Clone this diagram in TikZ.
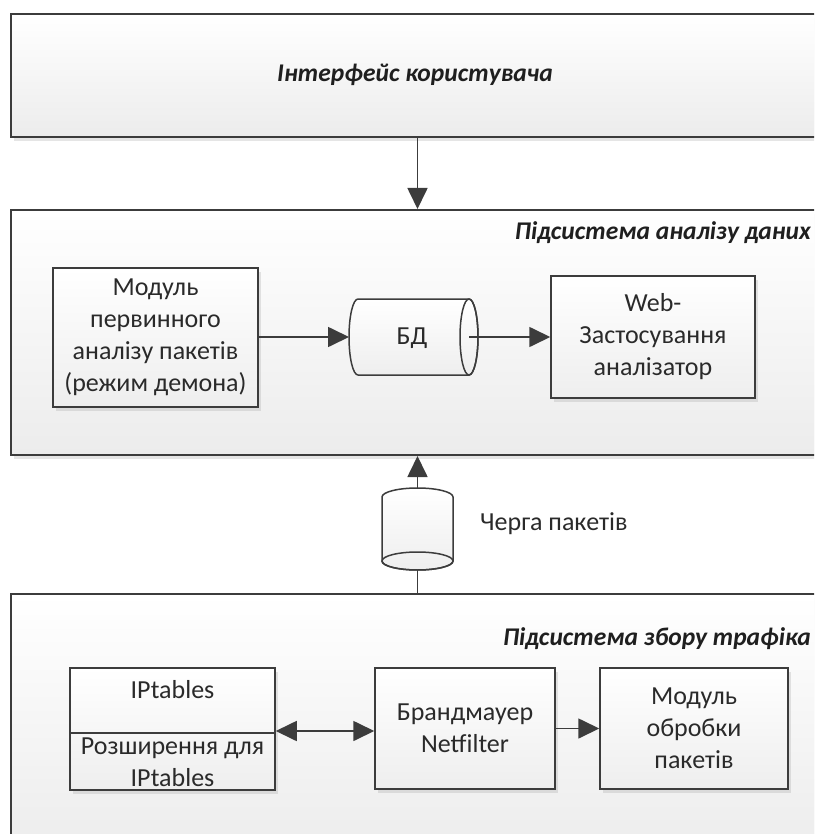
\documentclass[tikz,border=0pt]{standalone}
\usepackage{fontspec}
\setmainfont{Carlito}
\usetikzlibrary{arrows.meta,shadows}

\definecolor{linegray}{HTML}{3C3C3C}
\definecolor{textgray}{HTML}{2A2A2A}
\definecolor{boxlow}{HTML}{ECECEC}
\definecolor{innerlow}{HTML}{EEEEEE}

\begin{document}
\begin{tikzpicture}[x=1pt,y=-1pt,
  boxshadow/.style={drop shadow={shadow xshift=3pt,shadow yshift=-4pt,fill=black!40,opacity=0.25}},
  layer/.style={draw=linegray,line width=2pt,top color=white,bottom color=boxlow,
    inner sep=0pt,boxshadow},
  block/.style={draw=linegray,line width=1.5pt,top color=white,bottom color=innerlow,
    inner sep=0pt,align=center,text=textgray,boxshadow,
    font=\fontsize{26}{32}\selectfont},
  plain/.style={inner sep=0pt,align=center,text=textgray,font=\fontsize{26}{32}\selectfont},
  heading/.style={inner sep=0pt,text=black!88,font=\fontsize{25.5}{30}\selectfont\bfseries\itshape},
  cyl/.style={draw=linegray,line width=1.5pt,top color=white,bottom color=innerlow},
  flow/.style={draw=linegray,line width=1.7pt,-{Triangle[length=21pt,width=20pt]}},
  both/.style={draw=linegray,line width=1.7pt,{Triangle[length=21pt,width=20pt]}-{Triangle[length=21pt,width=20pt]}}
]
\useasboundingbox (0,0) rectangle (814,834);
\clip (0,0) rectangle (814,834);

% three stacked layers (they run past the right and bottom edges)
\node[layer,minimum width=813pt,minimum height=123pt] (ui) at (417.5,75.5) {};
\node[heading] (uititle) at (415,75) {Інтерфейс користувача};

\node[layer,minimum width=813pt,minimum height=245pt] (analysis) at (417.5,332.5) {};
\node[heading,anchor=east] (antitle) at (811,233) {Підсистема аналізу даних};

\node[layer,minimum width=813pt,minimum height=260pt] (capture) at (417.5,724) {};
\node[heading,anchor=east] (captitle) at (811,639) {Підсистема збору трафіка};

% analysis subsystem
\node[block,minimum width=205pt,minimum height=139pt] (daemon) at (155.5,337.5)
  {Модуль\\первинного\\аналізу пакетів\\(режим демона)};

% database drum, lying on its side
\path[cyl] (358,299) -- (469,299) arc[start angle=-90,end angle=90,x radius=9,y radius=38]
  -- (358,375) arc[start angle=90,end angle=270,x radius=9,y radius=38] -- cycle;
\draw[linegray,line width=1.5pt] (469,337) ellipse[x radius=9,y radius=38];
\node[plain,minimum width=120pt,minimum height=76pt] (db) at (412,338) {БД};

\node[block,minimum width=204pt,minimum height=122pt] (web) at (653,337)
  {Web-\\Застосування\\аналізатор};

\draw[flow] (daemon.east |- 0,337) -- (349,337);
\draw[flow] (469,337) -- (web.west |- 0,337);

% packet queue drum, standing upright
\path[cyl] (382,497) arc[start angle=180,end angle=360,x radius=35.5,y radius=9]
  -- (453,561) arc[start angle=0,end angle=180,x radius=35.5,y radius=9] -- cycle;
\draw[linegray,line width=1.5pt] (417.5,561) ellipse[x radius=35.5,y radius=9];
\node[minimum width=71pt,minimum height=82pt,inner sep=0pt] (queue) at (417.5,529) {};
\node[plain,anchor=west] (queuelabel) at (480,524) {Черга пакетів};

% traffic capture subsystem
\node[block,minimum width=205pt,minimum height=122pt] (ipt) at (172.5,729) {};
\draw[linegray,line width=1.5pt] (ipt.west |- 0,733) -- (ipt.east |- 0,733);
\node[plain] (iptname) at (172.5,690) {IPtables};
\node[plain] (iptext) at (172.5,762) {Розширення для\\IPtables};

\node[block,minimum width=180pt,minimum height=121pt] (fw) at (465,728.5)
  {Брандмауер\\Netfilter};
\node[block,minimum width=188pt,minimum height=121pt] (proc) at (694,728.5)
  {Модуль\\обробки\\пакетів};

\draw[both] (ipt.east |- 0,731) -- (fw.west |- 0,731);
\draw[flow] (fw.east) -- (proc.west);

% links between the layers
\draw[flow] (ui.south) -- (analysis.north);
\draw[flow] (queue.north) -- (queue.north |- analysis.south);
\draw[linegray,line width=1.7pt] (queue.south) -- (queue.south |- capture.north);
\end{tikzpicture}
\end{document}
